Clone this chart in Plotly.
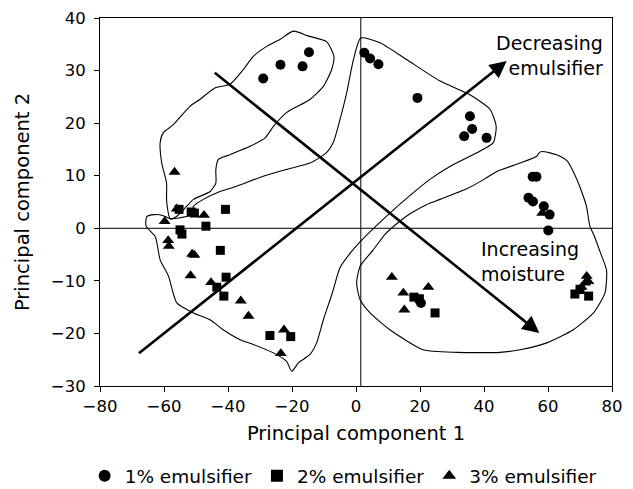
import plotly.graph_objects as go

# Scores on principal components 1 and 2, grouped by emulsifier level
pc1_1pct = [-29.0, -23.6, -16.7, -14.7,
            2.6, 4.4, 7.0, 19.2, 35.6, 36.3, 33.8, 40.8,
            55.2, 56.4, 53.9, 55.3, 58.7, 60.5, 60.1,
            20.3]
pc2_1pct = [28.5, 31.1, 30.8, 33.5,
            33.4, 32.3, 31.2, 24.8, 21.3, 18.9, 17.5, 17.2,
            9.8, 9.8, 5.8, 5.1, 4.2, 2.6, -0.4,
            -14.2]

pc1_2pct = [-55.3, -50.5, -51.5, -40.8, -46.9, -55.0, -54.4, -42.4,
            -40.6, -43.5, -41.3, -26.9, -20.4,
            18.1, 19.8, 24.7,
            68.4, 70.0, 72.7]
pc2_2pct = [3.6, 2.9, 3.1, 3.6, 0.4, -0.3, -1.1, -4.2,
            -9.3, -11.2, -12.9, -20.4, -20.6,
            -13.1, -13.4, -16.1,
            -12.5, -11.6, -12.9]

pc1_3pct = [-56.7, -56.0, -47.5, -59.8, -58.7, -58.5, -51.2, -50.5,
            -51.7, -45.3, -36.0, -33.6, -22.5, -23.5,
            11.2, 14.8, 22.6, 15.1,
            58.2, 72.1, 72.6, 71.6, 70.5, 69.5]
pc2_3pct = [10.7, 3.7, 2.5, 1.3, -2.3, -3.4, -4.9, -5.1,
            -9.0, -10.3, -13.8, -16.7, -19.3, -23.8,
            -9.3, -12.3, -11.2, -15.5,
            2.9, -9.1, -10.1, -10.4, -11.2, -12.0]

series_names = ["1% emulsifier", "2% emulsifier", "3% emulsifier"]

# Hand-drawn outlines around the sample groups
outline_upper_left_x = [-58.1, -59.0, -59.2, -59.2, -60.7, -61.2, -60.2, -57.1, -51.9,
                        -48.8, -44.1, -39.4, -35.2, -32.1, -27.9, -23.8, -19.6, -15.0,
                        -9.2, -6.9, -7.6, -10.2, -14.4, -21.7, -25.8, -28.4, -33.1,
                        -39.4, -43.0, -43.8, -43.8, -45.6, -50.8, -52.9, -56.0, -58.1]
outline_upper_left_y = [1.8, 4.2, 5.5, 8.6, 12.4, 16.3, 18.2, 19.7, 23.2,
                        24.5, 26.7, 27.4, 30.2, 32.7, 34.6, 35.9, 37.5, 36.6,
                        35.5, 32.7, 30.2, 27.0, 24.5, 22.0, 19.4, 17.2, 15.6,
                        14.0, 13.1, 11.2, 8.6, 7.0, 5.5, 4.2, 2.3, 1.8]

outline_diagonal_x = [-51.3, -55.0, -58.1, -60.2, -63.0, -65.4, -65.6, -62.8, -62.3,
                      -61.2, -58.6, -56.0, -50.8, -45.6, -41.5, -36.2, -32.1, -25.8,
                      -21.7, -20.1, -18.0, -14.4, -12.3, -10.2, -7.5, -5.0, -1.5,
                      3.0, 10.6, 17.0, 23.1, 30.0, 38.8, 42.9, 43.8, 41.9,
                      35.6, 26.3, 15.8, 7.5, 1.5, -0.8, -2.9, -5.0, -7.1,
                      -9.2, -14.4, -21.7, -29.0, -37.3, -42.5, -47.7, -50.8, -51.3]
outline_diagonal_y = [2.6, 2.0, 1.8, 2.4, 2.6, 2.2, 0.4, -1.5, -2.5,
                      -6.0, -9.1, -14.2, -16.1, -17.4, -19.3, -21.2, -22.1, -23.7,
                      -25.3, -27.2, -25.6, -24.0, -21.8, -17.4, -12.5, -7.5, -4.5,
                      -1.5, 2.9, 6.3, 9.3, 12.0, 14.7, 16.3, 19.4, 22.6,
                      25.4, 28.0, 32.1, 35.3, 36.2, 32.1, 25.8, 20.7, 16.3,
                      14.4, 12.4, 11.2, 9.9, 8.0, 7.0, 5.5, 4.2, 2.6]

outline_right_x = [57.0, 58.0, 62.7, 66.0, 68.5, 70.5, 72.0, 73.1, 74.5, 76.3, 78.3,
                   77.8, 74.2, 67.9, 59.6, 51.3, 45.0, 31.5, 21.0, 10.6, 4.4,
                   1.3, 0.2, 1.3, 5.4, 9.0, 13.0, 17.0, 22.0, 26.3, 34.6,
                   40.0, 44.0, 51.3, 56.5, 57.0]
outline_right_y = [14.2, 14.6, 14.0, 12.8, 10.0, 7.0, 4.2, 0.4, -1.5, -4.5, -8.0,
                   -12.3, -16.1, -19.3, -21.8, -23.1, -23.6, -23.6, -23.1, -19.3, -16.1,
                   -13.6, -10.4, -7.2, -4.1, -1.2, 1.0, 2.8, 4.5, 5.5, 7.5,
                   9.3, 10.8, 12.4, 13.7, 14.2]

# Trend arrows (tail -> head)
emulsifier_arrow_x = [-68.3, 47.1]
emulsifier_arrow_y = [-24.0, 31.8]
moisture_arrow_x = [-44.6, 57.3]
moisture_arrow_y = [29.8, -19.9]

# Reference cross lines
divider_x = 1.5
divider_y = 0.0

x_range = [-80, 80]
y_range = [-30, 40]

FONT = "DejaVu Sans"
INK = "black"

fig = go.Figure()

for ox, oy in [(outline_upper_left_x, outline_upper_left_y),
               (outline_diagonal_x, outline_diagonal_y),
               (outline_right_x, outline_right_y)]:
    fig.add_trace(go.Scatter(x=ox, y=oy, mode="lines",
                             line=dict(color=INK, width=1.1, shape="spline", smoothing=0.6),
                             showlegend=False, hoverinfo="skip"))

fig.add_trace(go.Scatter(x=[divider_x, divider_x], y=y_range, mode="lines",
                         line=dict(color=INK, width=1), showlegend=False, hoverinfo="skip"))
fig.add_trace(go.Scatter(x=x_range, y=[divider_y, divider_y], mode="lines",
                         line=dict(color=INK, width=1), showlegend=False, hoverinfo="skip"))

fig.add_trace(go.Scatter(x=pc1_1pct, y=pc2_1pct, mode="markers", name=series_names[0],
                         marker=dict(symbol="circle", size=10, color=INK)))
fig.add_trace(go.Scatter(x=pc1_2pct, y=pc2_2pct, mode="markers", name=series_names[1],
                         marker=dict(symbol="square", size=9, color=INK)))
fig.add_trace(go.Scatter(x=pc1_3pct, y=pc2_3pct, mode="markers", name=series_names[2],
                         marker=dict(symbol="triangle-up", size=10.5, color=INK)))

for ax_, ay_ in [(emulsifier_arrow_x, emulsifier_arrow_y), (moisture_arrow_x, moisture_arrow_y)]:
    fig.add_annotation(x=ax_[1], y=ay_[1], ax=ax_[0], ay=ay_[0], xref="x", yref="y",
                       axref="x", ayref="y", text="", showarrow=True,
                       arrowhead=2, arrowsize=1.3, arrowwidth=2.6, arrowcolor=INK, standoff=0)

fig.add_annotation(x=77.8, y=32.9, xref="x", yref="y", text="Decreasing<br>emulsifier",
                   showarrow=False, xanchor="right", yanchor="middle", align="right",
                   font=dict(family=FONT, size=19, color=INK))
fig.add_annotation(x=38.3, y=-6.4, xref="x", yref="y", text="Increasing<br>moisture",
                   showarrow=False, xanchor="left", yanchor="middle", align="left",
                   font=dict(family=FONT, size=19, color=INK))

axis_common = dict(showline=True, linecolor=INK, linewidth=1, mirror=True,
                   ticks="outside", ticklen=5, tickwidth=1, tickcolor=INK,
                   showgrid=False, zeroline=False,
                   tickfont=dict(family=FONT, size=16.5, color=INK))

fig.update_xaxes(range=x_range, dtick=20, tick0=0,
                 title=dict(text="Principal component 1", font=dict(family=FONT, size=19.5, color=INK), standoff=11),
                 **axis_common)
fig.update_yaxes(range=y_range, dtick=10, tick0=0, ticklabelstandoff=5,
                 title=dict(text="Principal component 2", font=dict(family=FONT, size=19.5, color=INK), standoff=16),
                 **axis_common)

fig.update_layout(
    width=633, height=489,
    margin=dict(l=100, r=21, t=18, b=103, autoexpand=False),
    plot_bgcolor="white", paper_bgcolor="white",
    font=dict(family=FONT, color=INK),
    legend=dict(orientation="h", x=-0.03, xanchor="left", y=-0.245, yanchor="middle",
                font=dict(family=FONT, size=18.5, color=INK), itemsizing="constant",
                bgcolor="rgba(0,0,0,0)"),
)

fig.write_html("out.html")
